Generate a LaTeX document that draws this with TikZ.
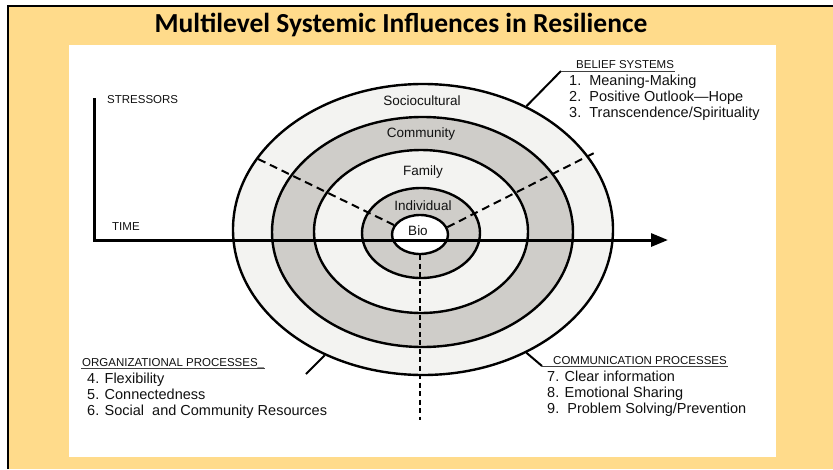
\documentclass[tikz,border=0pt]{standalone}
\usepackage{fontspec}
\setmainfont{Liberation Sans}
\newfontfamily\headfont{Carlito}
\usetikzlibrary{arrows.meta, positioning, shapes.geometric}
\definecolor{cframe}{HTML}{FFDB8B}
\definecolor{cband}{HTML}{CFCDC9}
\definecolor{cpale}{HTML}{F3F3F1}
\definecolor{cink}{HTML}{111111}
\tikzset{
  every picture/.style={line width=2.4pt},
  ring/.style={ellipse, draw=black, fill=#1, line width=2.4pt, inner sep=0pt},
  ring/.default=cpale,
  level/.style={font=\fontsize{13.5}{15}\selectfont, text=cink, inner sep=0pt},
  caps/.style={font=\fontsize{11.5}{13}\selectfont, text=cink, anchor=base west, inner sep=0pt},
  entry/.style={font=\fontsize{14.5}{16}\selectfont, text=cink, anchor=base west, inner sep=0pt},
  leader/.style={line width=2pt},
  underline/.style={line width=0.8pt, draw=cink!80},
  divider/.style={dash pattern=on 8pt off 5pt, line width=2pt},
}

\begin{document}
\begin{tikzpicture}[x=1pt, y=-1pt, axis/.style={line width=3pt, -{Triangle[length=17pt, width=13pt]}}]
  \useasboundingbox (0,0) rectangle (833,469);
  % slide frame and white panel
  \fill[cframe] (8,6) rectangle (833,469);
  \draw[line width=2.2pt] (8,469) -- (8,6) -- (833,6);
  \fill[white] (69,45) rectangle (776,457);
  \node[font=\headfont\bfseries\fontsize{27.5}{32}\selectfont] (title) at (401,25) {Multilevel Systemic Influences in Resilience};

  % nested levels, outermost first
  \node[ring=cpale, minimum width=380pt, minimum height=291pt] (soc) at (423,229.5) {};
  \node[ring=cband, minimum width=301pt, minimum height=230pt] (com) at (422.5,232) {};
  \node[ring=cpale, minimum width=214pt, minimum height=163pt] (fam) at (421,231.5) {};
  \node[ring=cband, minimum width=118pt, minimum height=90pt] (ind) at (421,233) {};
  \node[ring=white, minimum width=56pt, minimum height=39pt] (bio) at (420,234.5) {};

  % dashed dividers between the three process groups
  \coordinate (nw) at (254,157);
  \coordinate (ne) at (598,151);
  \coordinate (down) at (420,420);
  \draw[divider] (bio.160) -- (nw);
  \draw[divider] (bio.15) -- (ne);
  \draw[divider, dash pattern=on 5pt off 3.5pt, line width=2.6pt] (bio.south) -- (down);

  % stressors over time
  \coordinate (ytop) at (94,98);
  \coordinate (origin) at (94,240);
  \coordinate (tip) at (668,240);
  \draw[axis] (ytop) -- (origin) -- (tip);
  \node[caps] (stress) at (106,103) {STRESSORS};
  \node[caps] (time) at (111,230) {TIME};

  \foreach \t/\x/\y in {Sociocultural/422/101, Community/421/134, Family/423/172, Individual/423/206, Bio/418/231} {
    \node[level] (l\t) at (\x,\y) {\t};
  }

  % belief systems, top right
  \coordinate (bkink) at (561,71);
  \draw[leader] (soc.50) -- (bkink);
  \node[caps] (belief) at (575,68) {BELIEF SYSTEMS};
  \draw[underline] (bkink) -- (bkink -| belief.east);
  \begin{scope}
    \clip (560,70) rectangle (760,125);
    \foreach \t [count=\i] in {1.\ \ Meaning-Making, 2.\ \ Positive Outlook—Hope, {3.\ \ Transcendence/Spirituality}} {
      \node[entry] (belief\i) at (568,69+16*\i) {\t};
    }
  \end{scope}

  % organizational processes, bottom left
  \coordinate (okink) at (306,374);
  \draw[leader] (soc.232) -- (okink);
  \node[caps] (organization) at (81,366) {ORGANIZATIONAL PROCESSES\_};
  \draw[underline] ([yshift=-2pt]organization.base west) -- ([yshift=-2pt]organization.base east);
  \foreach \t [count=\i] in {4. Flexibility, 5. Connectedness, 6. Social\ \ and Community Resources} {
    \node[entry] (organization\i) at (86,367+16*\i) {\t};
  }

  % communication processes, bottom right
  \coordinate (ckink) at (542,366);
  \draw[leader] (soc.310) -- (ckink);
  \node[caps] (communication) at (552,364) {COMMUNICATION PROCESSES};
  \draw[underline] (ckink) -- (ckink -| communication.east);
  \foreach \t [count=\i] in {7. Clear information, 8. Emotional Sharing, {9.\ \ Problem Solving/Prevention}} {
    \node[entry] (communication\i) at (546,365+16*\i) {\t};
  }
\end{tikzpicture}
\end{document}
